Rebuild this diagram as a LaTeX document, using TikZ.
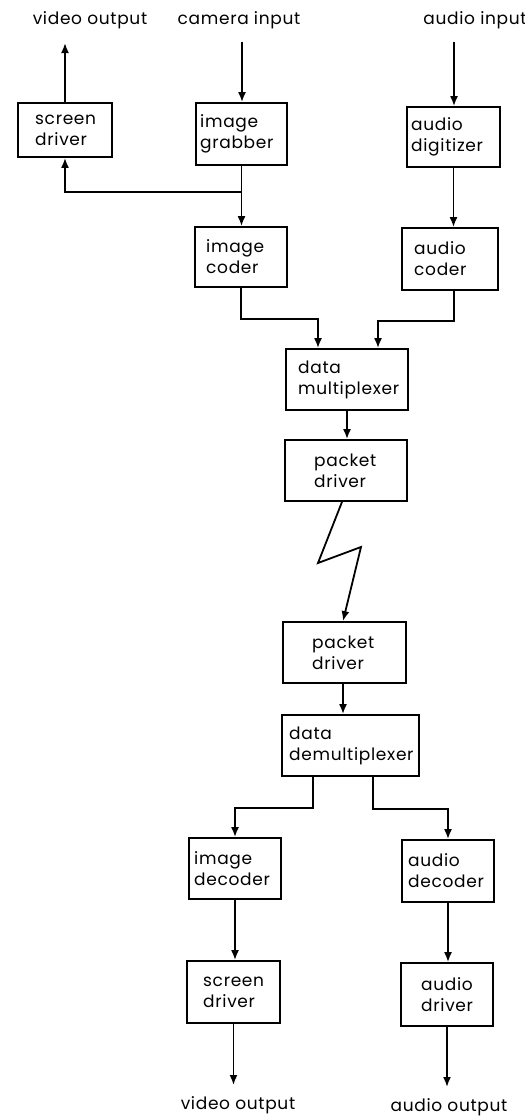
\documentclass[tikz,border=0pt]{standalone}
\usepackage{fontspec}
\setmainfont{Poppins}[LetterSpace=4]
\usetikzlibrary{arrows.meta}
\newcommand\mybox[8]{%
  \node[box, minimum width={(#4-#2)*1pt}, minimum height={(#5-#3)*1pt}] (#1) at ({(#2+#4)/2},{(#3+#5)/2}) {};
  \node[lbl, anchor=west] (#1t) at (#6,{(#3+#5)/2}) {#7\\#8};
}
\tikzset{
  box/.style={draw, line width=1.8pt, inner sep=0pt},
  lbl/.style={inner sep=0pt, align=left, font=\fontsize{17}{21}\selectfont},
  io/.style={inner sep=0pt, font=\fontsize{17}{21}\selectfont},
  arr/.style={line width=1.8pt, -{Latex[length=10pt,width=8pt]}},
}
\begin{document}
\begin{tikzpicture}[x=1pt,y=-1pt]
\useasboundingbox (0,0) rectangle (525,1120);
\fill[white] (0,0) rectangle (525,1120);
% top labels
\node[io] (vo1t) at (90,20) {video output};
\node[io] (camt) at (239,20) {camera input};
\node[io] (audt) at (475,20) {audio input};
% boxes
\mybox{sd1}{18}{103}{112}{157}{35}{screen}{driver}
\mybox{ig}{196}{103}{287}{165}{200}{image}{grabber}
\mybox{ad}{407}{107}{500}{167}{411}{audio}{digitizer}
\mybox{ic}{195}{227}{287}{287}{206}{image}{coder}
\mybox{ac}{402}{228}{498}{290}{414}{audio}{coder}
\mybox{mux}{286}{349}{408}{410}{298}{data}{multiplexer}
\mybox{pdA}{285}{440}{407}{501}{314}{packet}{driver}
\mybox{pdB}{283}{622}{406}{683}{312}{packet}{driver}
\mybox{demux}{282}{715}{419}{776}{289}{data}{demultiplexer}
\mybox{idec}{189}{838}{281}{899}{194}{image}{decoder}
\mybox{adec}{402}{840}{494}{902}{408}{audio}{decoder}
\mybox{sd2}{187}{961}{280}{1023}{203}{screen}{driver}
\mybox{adr}{401}{963}{493}{1026}{421}{audio}{driver}
% bottom labels
\node[io] (vo2t) at (238,1105) {video output};
\node[io] (ao2t) at (449,1107) {audio output};
% coordinates
\coordinate (vo1) at (65,43);
\coordinate (camin) at (242,42);
\coordinate (audin) at (454,42);
\coordinate (br) at (242,192);
\coordinate (zz1) at (318,563);
\coordinate (zz2) at (361,547);
\coordinate (vo2) at (233.5,1085);
\coordinate (ao2) at (447,1087);
% connectors
\draw[arr] (sd1.north) -- (vo1);
\draw[arr] (camin) -- (camin |- ig.north);
\draw[arr] (audin) -- (audin |- ad.north);
\draw[arr] (ig.south) -- (ig.south |- ic.north);
\draw[arr] (br) -| (sd1.south);
\draw[arr] (ad.south) -- (ad.south |- ac.north);
\draw[arr] (ic.south) -- ++(0,31) -| ([xshift=-29pt]mux.north);
\draw[arr] ([xshift=4pt]ac.south) -- ++(0,30) -| ([xshift=31pt]mux.north);
\draw[arr] (mux.south) -- (mux.south |- pdA.north);
\draw[arr, line join=miter] ([xshift=-4pt]pdA.south) -- (zz1) -- (zz2) -- ([xshift=-1.5pt]pdB.north);
\draw[arr] ([xshift=-1.5pt]pdB.south) -- ([xshift=-1.5pt]pdB.south |- demux.north);
\draw[arr] ([xshift=-37.5pt]demux.south) -- ++(0,31) -| (idec.north);
\draw[arr] ([xshift=22.5pt]demux.south) -- ++(0,32) -| (adec.north);
\draw[arr] (idec.south) -- (idec.south |- sd2.north);
\draw[arr] (adec.south) -- (adec.south |- adr.north);
\draw[arr] (sd2.south) -- (vo2);
\draw[arr] (adr.south) -- (ao2);
\end{tikzpicture}
\end{document}
